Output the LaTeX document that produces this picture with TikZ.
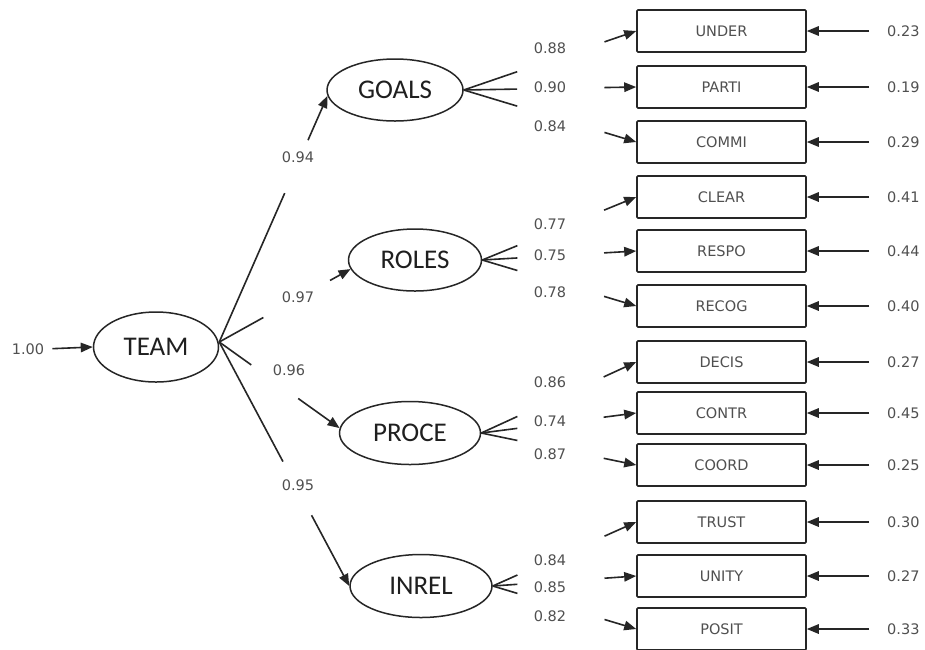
\documentclass[tikz,border=0pt]{standalone}
\usepackage{fontspec}
\setmainfont{DejaVu Sans}
\newfontfamily\latfont{Carlito}
\usetikzlibrary{arrows.meta,shapes.geometric,calc}
\definecolor{txtcol}{HTML}{505050}
\definecolor{lncol}{HTML}{262626}
\begin{document}
\begin{tikzpicture}[x=1pt,y=-1pt,
  lat/.style={ellipse,draw=lncol,line width=1.5pt,inner sep=0pt,
    font=\latfont\fontsize{27}{27}\selectfont,text=black!88},
  obs/.style={rectangle,draw=lncol,line width=1.6pt,rounded corners=1pt,
    minimum width=169pt,minimum height=42pt,inner sep=0pt,
    font=\fontsize{14.5}{14.5}\selectfont,text=txtcol},
  num/.style={font=\fontsize{14.5}{14.5}\selectfont,text=txtcol,inner sep=0pt},
  edge/.style={draw=lncol,line width=1.6pt},
  arr/.style={edge,-{Triangle[length=12pt,width=9.5pt]}}]
\useasboundingbox (0,0) rectangle (925,649);
\fill[white] (0,0) rectangle (925,649);

% latent variables
\node[lat,minimum width=125pt,minimum height=70pt] (TEAM) at (156,347) {TEAM};
\node[lat,minimum width=136pt,minimum height=62pt] (GOALS) at (395,90) {GOALS};
\node[lat,minimum width=133pt,minimum height=62pt] (ROLES) at (415,260) {ROLES};
\node[lat,minimum width=141pt,minimum height=63pt] (PROCE) at (410,433) {PROCE};
\node[lat,minimum width=142pt,minimum height=63pt] (INREL) at (421,586) {INREL};

% TEAM disturbance
\node[num] (e0) at (28,349) {1.00};
\draw[arr,shorten <=8pt] (e0.east) -- (TEAM.west);

% paths from TEAM
\coordinate (t) at ([yshift=5pt]TEAM.east);
\draw[edge] (t) -- ($(t)!0.605!(GOALS.185)$);
\draw[arr] ($(t)!0.82!(GOALS.185)$) -- (GOALS.185);
\node[num] (pG) at (298,157) {0.94};
\draw[edge] (t) -- ($(t)!0.336!(ROLES.188)$);
\draw[arr] ($(t)!0.844!(ROLES.188)$) -- (ROLES.188);
\node[num] (pR) at (298,297) {0.97};
\draw[edge] (t) -- ($(t)!0.266!(PROCE.176)$);
\draw[arr] ($(t)!0.656!(PROCE.176)$) -- (PROCE.176);
\node[num] (pP) at (289,370) {0.96};
\draw[edge] (t) -- ($(t)!0.49!(INREL.west)$);
\draw[arr] ($(t)!0.71!(INREL.west)$) -- (INREL.west);
\node[num] (pI) at (298,485) {0.95};

% observed variables with error terms
\foreach \nm/\yy/\err in {UNDER/31/0.23, PARTI/87/0.19, COMMI/142/0.29,
    CLEAR/197/0.41, RESPO/251/0.44, RECOG/306/0.40,
    DECIS/362/0.27, CONTR/413/0.45, COORD/465/0.25,
    TRUST/522/0.30, UNITY/576/0.27, POSIT/629/0.33}{
  \node[obs] (\nm) at (721.5,\yy) {\nm};
  \node[num,anchor=west] (e\nm) at (887,\yy) {\err};
  \draw[arr,shorten <=18pt] (e\nm.west) -- (\nm.east);
}

% loadings
\foreach \lv/\ob/\fa/\fb in {GOALS/UNDER/0.31/0.816, GOALS/PARTI/0.31/0.816, GOALS/COMMI/0.31/0.816,
    ROLES/CLEAR/0.228/0.791, ROLES/RESPO/0.228/0.791, ROLES/RECOG/0.228/0.791,
    PROCE/DECIS/0.233/0.79, PROCE/CONTR/0.233/0.79, PROCE/COORD/0.233/0.79,
    INREL/TRUST/0.172/0.779, INREL/UNITY/0.172/0.779, INREL/POSIT/0.172/0.779}{
  \draw[edge] (\lv.east) -- ($(\lv.east)!\fa!(\ob.west)$);
  \draw[arr] ($(\lv.east)!\fb!(\ob.west)$) -- (\ob.west);
}

% loading labels
\foreach \val/\yy [count=\i] in {0.88/48, 0.90/87, 0.84/126, 0.77/224, 0.75/255, 0.78/292,
    0.86/382, 0.74/421, 0.87/454, 0.84/560, 0.85/587, 0.82/616}{
  \node[num] (l\i) at (550,\yy) {\val};
}
\end{tikzpicture}
\end{document}
